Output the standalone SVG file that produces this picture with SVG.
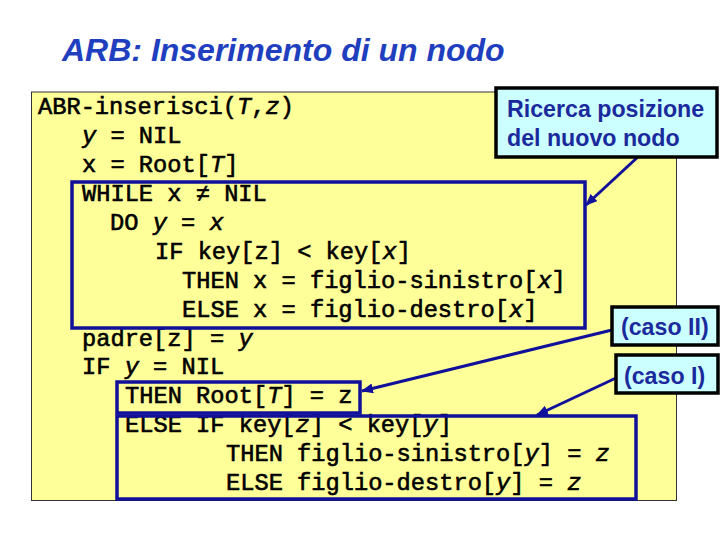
<svg xmlns="http://www.w3.org/2000/svg" width="720" height="540" viewBox="0 0 720 540">
<style>
.code{font-family:"Liberation Mono","Courier New",monospace;font-size:23.7px;font-weight:normal;fill:#000;stroke:#000;stroke-width:0.6}
.i{font-style:italic}
.box{fill:none;stroke:#10109A;stroke-width:3.5}
.call{fill:#CCFFFF;stroke:#000;stroke-width:3.5}
.ct{font-family:"Liberation Sans",Arial,sans-serif;font-size:23.2px;font-weight:bold;fill:#1A2A9C}
.conn{stroke:#10109A;stroke-width:3;fill:none;marker-end:url(#ah)}
</style>
<defs>
<marker id="ah" markerUnits="userSpaceOnUse" markerWidth="12" markerHeight="10" refX="11" refY="5" orient="auto">
<path d="M0,0 L12,5 L0,10 z" fill="#10109A"/>
</marker>
</defs>
<rect width="720" height="540" fill="#fff"/>
<text x="62" y="61" font-family="'Liberation Sans',Arial,sans-serif" font-size="32" font-weight="bold" font-style="italic" fill="#1F3FBF">ARB: Inserimento di un nodo</text>
<g id="code-panel">
<rect x="31.5" y="92" width="645" height="408.5" fill="#FFFF99" stroke="#333" stroke-width="1"/>
<text class="code" x="38" y="114">ABR-inserisci(<tspan class="i">T</tspan>,<tspan class="i">z</tspan>)</text>
<text class="code" x="82" y="143"><tspan class="i">y</tspan> = NIL</text>
<text class="code" x="82" y="172">x = Root[<tspan class="i">T</tspan>]</text>
<text class="code" x="82" y="201">WHILE x ≠ NIL</text>
<text class="code" x="110" y="230">DO <tspan class="i">y</tspan> = <tspan class="i">x</tspan></text>
<text class="code" x="155" y="259">IF key[z] &lt; key[<tspan class="i">x</tspan>]</text>
<text class="code" x="182" y="288">THEN x = figlio-sinistro[<tspan class="i">x</tspan>]</text>
<text class="code" x="182" y="317">ELSE x = figlio-destro[<tspan class="i">x</tspan>]</text>
<text class="code" x="82" y="346">padre[z] = <tspan class="i">y</tspan></text>
<text class="code" x="82" y="374">IF <tspan class="i">y</tspan> = NIL</text>
<text class="code" x="125" y="403">THEN Root[<tspan class="i">T</tspan>] = z</text>
<text class="code" x="125" y="432">ELSE IF key[<tspan class="i">z</tspan>] &lt; key[<tspan class="i">y</tspan>]</text>
<text class="code" x="226" y="461">THEN figlio-sinistro[<tspan class="i">y</tspan>] = <tspan class="i">z</tspan></text>
<text class="code" x="226" y="490">ELSE figlio-destro[<tspan class="i">y</tspan>] = <tspan class="i">z</tspan></text>
</g>
<g id="while-block"><rect class="box" x="72" y="182" width="513" height="146"/></g>
<g id="then-block"><rect class="box" x="117" y="382" width="243" height="31"/></g>
<g id="else-block"><rect class="box" x="117" y="416" width="519" height="83"/></g>
<g id="connectors">
<line class="conn" x1="640" y1="155" x2="586" y2="205"/>
<line class="conn" x1="612" y1="330" x2="362" y2="391"/>
<line class="conn" x1="616" y1="378" x2="537" y2="415"/>
</g>
<g id="callout-ricerca">
<rect class="call" x="496" y="88" width="221" height="69"/>
<text class="ct" x="507" y="117">Ricerca posizione</text>
<text class="ct" x="507" y="146">del nuovo nodo</text>
</g>
<g id="callout-caso2">
<rect class="call" x="612" y="307" width="106" height="38"/>
<text class="ct" x="621" y="335">(caso II)</text>
</g>
<g id="callout-caso1">
<rect class="call" x="616" y="355" width="102" height="38"/>
<text class="ct" x="624" y="384">(caso I)</text>
</g>
</svg>
